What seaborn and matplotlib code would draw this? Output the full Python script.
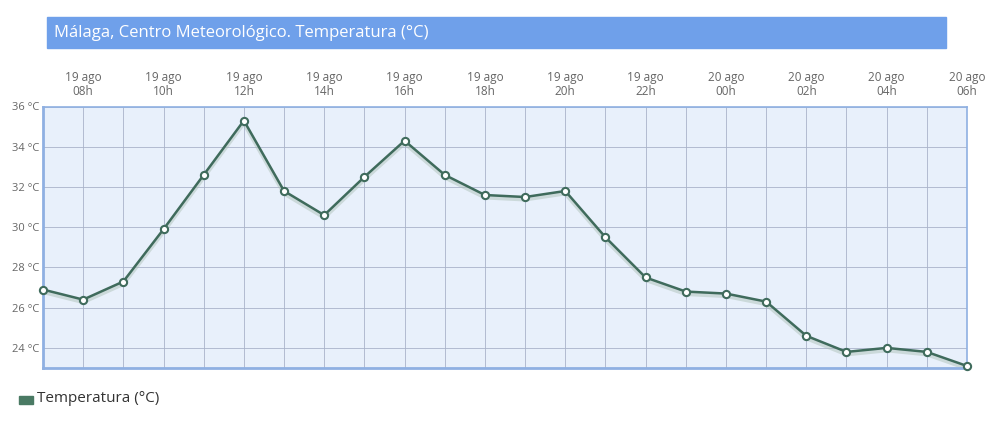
"""Temperatura horaria en Málaga, Centro Meteorológico."""

import matplotlib
matplotlib.use("Agg")
import matplotlib.pyplot as plt
from matplotlib.patches import Rectangle
import seaborn as sns
import pandas as pd

# datos (19 ago 07h -> 20 ago 06h)
horas = ["07h", "08h", "09h", "10h", "11h", "12h", "13h", "14h", "15h", "16h",
         "17h", "18h", "19h", "20h", "21h", "22h", "23h", "00h", "01h", "02h",
         "03h", "04h", "05h", "06h"]
dias = ["19 ago"] * 17 + ["20 ago"] * 7
temperatura = [26.9, 26.4, 27.3, 29.9, 32.6, 35.3, 31.8, 30.6, 32.5, 34.3,
               32.6, 31.6, 31.5, 31.8, 29.5, 27.5, 26.8, 26.7, 26.3, 24.6,
               23.8, 24.0, 23.8, 23.1]
y_ticks = [24, 26, 28, 30, 32, 34, 36]

df = pd.DataFrame({"idx": range(len(horas)), "temp": temperatura})

LINE = "#3f6b5c"
GRID = "#a9b3c9"
BORDER = "#8fb0e2"
TXT = "#666666"

sns.set_style("white")
plt.rcParams["font.family"] = ["Open Sans", "DejaVu Sans"]

fig = plt.figure(figsize=(9.94, 4.43), dpi=100)
ax = fig.add_axes([43 / 994, 1 - 368 / 443, (967 - 43) / 994, (368 - 106.5) / 443])
ax.set_facecolor("#e8f0fb")

# sombra suave bajo la línea
ax.plot(df["idx"], df["temp"] - 0.12, color="#a9bdb2", lw=3, alpha=0.45, zorder=2)
sns.lineplot(data=df, x="idx", y="temp", ax=ax, color=LINE, lw=1.8, marker="o",
             markersize=5.2, markerfacecolor="white", markeredgecolor=LINE,
             markeredgewidth=1.5, zorder=3, clip_on=False)

ax.set_xlim(0, len(horas) - 1)
ax.set_ylim(23, 36)

ax.set_xticks(range(len(horas)), minor=True)
ax.set_xticks(range(1, len(horas), 2))
ax.set_xticklabels([f"{dias[i]}\n{horas[i]}" for i in range(1, len(horas), 2)],
                   fontsize=8.5, color=TXT, linespacing=1.15)
ax.xaxis.tick_top()
ax.set_yticks(y_ticks)
ax.set_yticklabels([f"{t} °C" for t in y_ticks], fontsize=8, color=TXT)
ax.tick_params(axis="both", which="both", length=0, pad=3)
ax.tick_params(axis="x", pad=6)
ax.grid(True, which="both", color=GRID, lw=0.6)
ax.set_axisbelow(True)
ax.set_xlabel("")
ax.set_ylabel("")

for side, w in [("left", 2), ("bottom", 2), ("top", 1.2), ("right", 1.2)]:
    ax.spines[side].set_visible(True)
    ax.spines[side].set_color(BORDER)
    ax.spines[side].set_linewidth(w)

# barra del título
fig.patches.append(Rectangle((47 / 994, 1 - 48 / 443), (946 - 47) / 994, 31 / 443,
                             transform=fig.transFigure, color="#6fa0ea", zorder=0))
fig.text(54 / 994, 1 - 33 / 443, "Málaga, Centro Meteorológico. Temperatura (°C)",
         color="white", fontsize=12, va="center", ha="left")

# leyenda
fig.patches.append(Rectangle((19 / 994, 1 - 404 / 443), 14 / 994, 8 / 443,
                             transform=fig.transFigure, color="#4a7a64"))
fig.text(37 / 994, 1 - 398 / 443, "Temperatura (°C)", color="#333333",
         fontsize=11, va="center", ha="left")

fig.savefig("out.png", dpi=100)
plt.close(fig)
